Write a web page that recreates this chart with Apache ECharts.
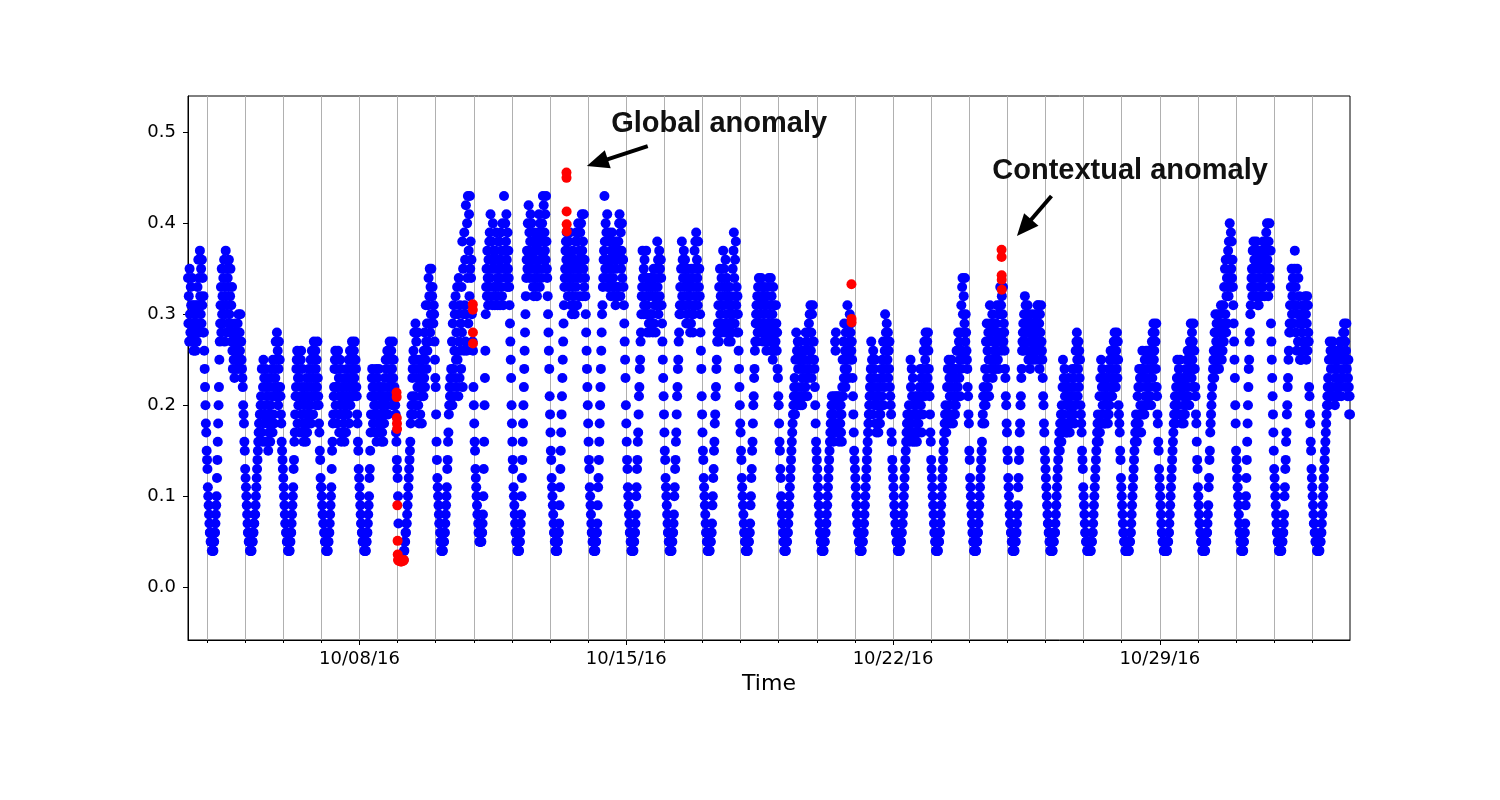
<!DOCTYPE html>
<html lang="en" style="height: 100%">

<head>
    <meta charset="utf-8">
</head>

<body style="height: 100%; margin: 0; background: #fff">
    <div id="container" style="width: 1500px; height: 800px"></div>

    <script type="text/javascript" src="https://cdn.jsdelivr.net/npm/echarts@6.0.0/dist/echarts.min.js"></script>

    <script type="text/javascript">
        // readings every 15 minutes, one array per day, values x100
        // oct03 starts at 12:00, every other day starts at 00:00
        // rows: 00-03h, 03-06h, 06-10h, 10-13h, 13-16h, 16-19h, 19-22h, 22-24h
        const oct03 = [34,29,32,27,35,30,28,33,31,27,34,29, 28,31,26,30,27,29,31,26,28,30,27,31,
            33,29,36,31,34,28,37,32,30,35,29,36, 31,34,28,32, 28,26,24,22,20,18,17,15];
        const oct04 = [14,13,11,10,9,8,7,6,6,5,5,5, 4,5,4,4,4,5,5,6,6,7,8,9, 10,12,14,16,18,20,22,25,27,29,31,33,28,35,30,32,
            29,34,31,36,27,33,30,37,32,28,35,31, 34,29,33,36,30,28,32,35,29,31,27,33,
            26,24,28,25,27,23,26,29,24,27,25,28, 26,29,24,30,27,25,28,26,30,24,27,25, 24,23,22,20,19,18,16,15];
        const oct05 = [13,12,11,10,9,8,7,6,6,5,5,5, 4,4,4,4,4,5,5,5,6,6,7,7, 8,8,9,10,11,12,13,14,15,16,17,18,16,19,17,20,
            21,17,24,19,16,22,25,18,23,20,16,24, 19,22,16,21,18,23,15,20,17,22,19,16,
            20,23,18,24,21,17,25,19,22,18,24,21, 23,27,21,25,28,22,26,20,24,27,21,25, 22,21,19,18,16,15,14,13];
        const oct06 = [12,11,10,9,8,7,7,6,6,5,5,5, 4,4,4,4,4,5,5,6,6,7,8,9, 10,11,13,14,16,17,19,21,22,24,25,26,18,23,20,24,
            20,23,17,21,25,26,19,22,24,18,21,16, 20,17,22,18,21,16,19,23,17,20,22,18,
            21,24,19,23,20,25,18,22,26,21,24,19, 23,27,21,25,22,26,24,20,25,22,27,23, 21,20,18,17,15,14,12,11];
        const oct07 = [11,10,9,8,8,7,7,6,6,5,5,5, 4,4,4,4,4,5,5,6,6,7,8,9, 10,11,13,15,16,18,19,21,22,24,25,26,20,24,22,25,
            18,22,26,19,23,17,21,25,20,24,16,22, 19,21,17,22,18,20,16,23,19,21,17,22,
            20,24,19,23,21,25,18,22,26,20,24,21, 23,27,22,25,24,21,26,23,27,22,25,24, 22,21,19,18,16,15,13,12];
        const oct08 = [11,10,9,8,7,7,6,6,5,5,5,5, 4,4,4,4,4,5,5,6,6,7,8,9, 10,12,13,15,17,19,21,23,24,22,18,21,23,20,22,19,
            17,21,24,16,20,23,18,22,19,24,17,21, 22,18,20,16,21,17,19,22,16,20,18,21,
            23,19,25,21,24,20,26,22,19,25,21,23, 27,23,25,21,26,22,24,20,27,23,25,21, 22,21,20,19,17,16,14,13];
        const oct09 = [12,10,7,3,3,3,3,3,3,3,3,3, 3,3,3,3,4,4,5,5,6,6,7,7, 8,9,10,11,12,13,14,15,16,18,19,20,21,23,24,25,
            26,19,28,21,24,29,20,27,23,25,22,28, 20,24,18,22,25,19,23,21,24,18,22,25,
            24,21,26,23,28,22,25,31,27,24,29,26, 31,27,34,29,32,35,28,33,30,35,29,32, 33,30,29,31,30,27,25,23];
        const oct10 = [22,19,16,14,12,11,10,9,8,7,7,6, 5,5,4,4,4,4,4,5,5,5,6,6, 7,8,9,10,11,13,14,16,17,19,20,22,21,23,20,24,
            22,27,20,29,24,31,21,26,30,23,32,25, 28,22,33,25,30,21,34,27,23,31,26,29,
            24,33,28,38,22,35,30,26,39,31,36,27, 42,30,26,40,34,43,29,37,41,32,43,35, 38,34,36,30,31,27,26,22];
        const oct11 = [20,18,16,15,13,12,11,10,9,8,8,7, 6,6,5,5,5,5,5,5,6,6,7,8, 10,13,16,20,23,26,30,33,35,32,37,34,31,36,33,38,
            39,34,41,36,32,38,35,31,40,37,33,36, 35,31,37,33,39,32,36,34,31,38,33,35,
            38,34,31,36,39,33,37,32,40,35,31,37, 43,37,35,40,34,38,41,36,33,39,35,37, 34,33,31,29,27,25,23,20];
        const oct12 = [18,16,14,13,11,10,9,8,7,6,6,5, 5,5,4,4,4,4,4,5,5,6,7,8, 10,12,14,16,18,20,22,24,26,28,30,32,34,36,37,35,
            40,35,42,37,39,34,38,41,36,40,35,38, 36,33,37,32,39,34,36,38,33,35,37,32,
            38,34,39,35,41,37,33,40,36,38,34,39, 40,36,43,38,42,35,39,37,41,36,43,38, 35,34,32,30,28,26,24,21];
        const oct13 = [19,17,15,14,12,11,10,9,8,7,6,6, 5,5,4,4,4,4,4,5,5,6,6,7, 9,11,13,15,17,19,21,23,25,27,29,31,33,34,35,37,
            38,36,39,34,37,32,36,38,33,35,39,34, 36,31,35,30,33,37,32,34,31,36,30,35,
            38,33,39,35,31,38,34,40,36,32,37,35, 39,34,40,36,41,37,32,38,35,41,33,36, 34,32,30,28,26,24,22,20];
        const oct14 = [18,16,14,13,11,10,9,8,7,6,6,5, 5,5,4,4,4,4,4,5,5,6,6,7, 9,11,12,14,16,18,20,22,24,26,28,30,31,33,34,36,
            37,43,38,35,40,34,39,36,41,33,38,35, 39,33,38,34,36,32,37,35,39,33,36,34,
            38,33,37,32,36,31,35,38,33,36,32,37, 38,33,40,41,36,32,39,35,37,40,34,36, 36,33,31,29,27,25,23,20];
        const oct15 = [18,16,14,13,11,10,9,8,7,6,6,5, 5,4,4,4,4,4,4,5,5,6,6,7, 8,10,11,13,14,16,17,19,21,22,24,25,27,28,30,32,
            33,37,34,30,35,31,36,32,34,30,37,33, 31,28,34,30,33,29,32,28,34,30,33,29,
            34,30,33,28,32,35,29,34,31,33,28,32, 35,31,38,33,36,30,34,37,32,35,31,36, 34,31,29,27,25,23,21,19];
        const oct16 = [17,15,14,12,11,10,9,8,7,6,6,5, 5,4,4,4,4,4,4,5,5,6,6,7, 8,10,11,13,14,16,17,19,21,22,24,25,27,28,30,31,
            33,30,35,31,38,32,36,34,31,37,33,35, 36,31,34,29,33,30,35,32,29,34,31,33,
            32,28,33,29,35,30,34,31,28,33,30,35, 37,31,38,32,39,33,36,34,31,38,35,33, 35,32,30,28,26,24,21,19];
        const oct17 = [17,15,14,12,11,10,9,8,7,6,6,5, 5,4,4,4,4,4,4,5,5,5,6,6, 7,9,10,12,13,15,16,18,19,21,22,24,25,27,28,29,
            31,27,33,28,35,30,32,29,34,28,31,33, 37,31,35,29,33,28,36,32,30,34,29,33,
            32,27,31,28,33,29,30,27,32,28,31,29, 35,30,37,39,34,29,36,32,38,31,33,28, 32,30,28,26,24,22,20,18];
        const oct18 = [17,15,14,12,11,10,9,8,7,6,6,5, 5,4,4,4,4,4,4,5,5,5,6,6, 7,9,10,12,13,15,16,18,20,21,23,24,26,27,29,30,
            31,27,32,28,33,29,34,30,28,32,29,31, 34,29,33,28,32,27,30,33,28,31,29,32,
            31,26,32,27,33,28,30,34,29,27,31,28, 34,29,32,26,30,25,33,28,31,27,29,26, 27,31,29,26,28,24,23,21];
        const oct19 = [20,18,16,15,13,12,10,9,8,7,7,6, 5,5,4,4,4,4,4,5,5,5,6,6, 7,8,9,10,11,12,13,14,15,16,17,18,19,20,21,22,
            23,19,25,21,28,22,26,20,27,24,21,25, 27,21,25,20,24,22,26,20,23,25,21,24,
            25,21,26,22,28,23,27,24,21,26,23,28, 29,24,30,25,31,26,28,23,30,27,31,25, 27,25,24,22,20,18,16,15];
        const oct20 = [14,13,12,11,10,9,8,7,6,6,5,5, 4,4,4,4,4,4,5,5,5,6,6,7, 7,8,9,10,11,12,13,14,15,16,17,18,19,20,21,20,
            17,20,16,19,21,18,27,26,28,21,17,20, 18,21,17,20,16,19,21,18,20,17,19,16,
            22,25,21,27,23,29,24,26,22,28,25,23, 24,31,26,28,23,29,27,30,25,28,29,26, 27,25,23,21,19,17,15,14];
        const oct21 = [13,12,11,10,9,8,7,7,6,6,5,5, 4,4,4,4,4,4,5,5,5,6,6,7, 8,9,10,11,12,13,14,15,16,17,18,19,20,21,22,23,
            24,27,22,25,19,22,26,21,24,20,23,25, 18,21,17,20,22,18,21,17,20,19,22,18,
            19,23,20,24,21,25,23,27,20,24,22,26, 30,26,28,24,29,27,25,28,23,26,24,27, 22,21,20,19,17,16,14,13];
        const oct22 = [12,11,10,9,8,8,7,6,6,5,5,5, 4,4,4,4,4,4,5,5,5,6,6,7, 7,8,9,10,11,12,13,14,15,16,17,18,19,18,17,19,
            20,16,19,17,25,22,18,24,21,16,23,19, 17,20,16,19,21,17,20,18,16,21,19,17,
            18,21,17,22,19,24,20,23,17,21,24,19, 22,26,23,27,21,25,28,22,26,24,27,23, 28,26,24,22,21,19,17,16];
        const oct23 = [14,13,12,11,10,9,8,7,6,6,5,5, 4,4,4,4,4,4,5,5,5,6,6,7, 8,9,10,11,12,13,14,15,16,17,18,19,20,18,17,19,
            22,18,24,19,25,20,23,21,24,18,22,25, 24,19,23,18,21,24,20,22,19,24,20,23,
            26,21,26,22,28,24,27,23,25,21,28,24, 31,26,33,34,30,25,32,28,29,34,27,30, 28,26,25,24,22,21,19,18];
        const oct24 = [15,14,12,11,10,9,8,7,6,6,5,5, 4,4,4,4,4,4,5,5,5,6,6,7, 8,9,10,11,12,13,14,15,16,18,19,21,22,20,18,21,
            24,20,27,21,29,23,26,22,28,25,21,27, 31,25,29,24,28,25,30,23,27,29,24,26,
            29,25,28,24,29,26,31,27,25,30,24,28, 31,27,33,30,31,26,32,28,30,33,27,29, 28,26,24,23,21,20,18,17];
        const oct25 = [15,14,12,11,10,9,8,7,7,6,6,5, 5,4,4,4,4,4,4,5,5,5,6,6, 7,8,9,11,12,14,15,17,18,20,21,23,24,26,27,28,
            29,26,30,27,32,27,31,28,30,26,29,31, 30,25,29,25,28,24,27,30,26,28,25,29,
            28,25,29,26,30,26,27,29,25,28,26,30, 31,27,31,26,29,24,30,28,25,31,27,26, 25,23,21,20,18,17,15,14];
        const oct26 = [13,12,11,10,9,8,7,7,6,6,5,5, 4,4,4,4,4,4,4,5,5,5,6,6, 6,7,8,9,10,11,12,13,14,15,16,17,15,18,16,19,
            16,20,17,22,25,19,23,18,24,21,17,22, 21,17,20,17,22,18,23,19,21,17,20,18,
            21,18,22,19,24,20,23,19,22,18,24,20, 26,21,27,28,25,21,24,27,22,26,23,25, 20,19,18,17,15,14,13,11];
        const oct27 = [10,9,8,7,6,6,5,5,5,4,4,4, 4,4,4,4,4,4,4,5,5,5,6,6, 7,8,9,10,11,12,13,14,15,16,17,18,19,17,16,18,
            21,17,23,18,25,19,22,24,20,23,18,21, 23,18,22,18,23,19,21,20,22,18,23,19,
            24,20,25,21,26,22,23,25,21,24,22,26, 27,23,28,27,25,22,26,24,28,23,27,25, 20,19,18,17,15,14,12,11];
        const oct28 = [10,9,8,7,6,6,5,5,5,4,4,4, 4,4,4,4,4,4,4,5,5,5,6,6, 7,8,9,10,11,12,13,14,15,16,17,18,19,17,16,18,
            21,17,22,18,24,19,23,20,22,17,24,19, 26,20,24,19,23,19,25,21,23,20,26,22,
            24,20,25,21,26,22,23,25,21,24,20,26, 27,23,28,24,29,25,26,28,22,27,24,29, 22,21,19,18,16,15,13,12];
        const oct29 = [11,10,9,8,7,6,6,5,5,5,4,4, 4,4,4,4,4,4,4,5,5,5,6,6, 7,8,9,10,11,12,13,14,15,16,17,18,19,20,21,20,
            18,22,19,23,25,20,23,21,24,19,22,25, 23,19,22,18,22,19,21,23,18,20,22,19,
            23,20,24,21,25,22,26,23,21,24,20,25, 27,24,29,26,23,28,25,27,22,29,24,26, 24,22,21,19,18,16,14,13];
        const oct30 = [11,10,9,8,7,7,6,6,5,5,5,4, 4,4,4,4,4,4,4,5,5,5,6,6, 7,8,9,11,12,14,15,17,18,19,20,21,22,23,24,25,
            26,23,28,24,30,25,27,29,24,28,26,30, 29,24,28,25,30,26,31,27,25,29,26,28,
            31,27,33,29,35,30,36,28,32,34,29,33, 37,32,38,34,40,36,33,39,35,38,34,36, 33,31,29,27,25,23,20,18];
        const oct31 = [15,14,13,12,11,10,9,8,7,6,6,5, 5,4,4,4,4,4,4,5,5,6,6,7, 9,10,12,14,16,18,20,22,24,25,27,28,30,31,33,34,
            35,32,37,33,38,34,36,32,37,35,33,38, 37,32,36,31,35,31,34,37,32,36,33,35,
            36,32,37,33,38,34,35,37,32,36,34,38, 39,35,40,36,37,32,38,34,40,35,33,37, 29,27,25,23,21,19,17,15];
        const nov01 = [13,12,11,10,9,8,7,6,6,5,5,5, 4,4,4,4,4,4,4,5,5,5,6,6, 7,8,10,11,13,14,16,17,19,20,22,23,25,26,28,29,
            31,28,33,29,35,30,32,34,29,33,31,35, 37,31,33,28,31,26,35,30,27,34,29,32,
            30,25,29,25,30,25,28,31,26,29,27,30, 31,26,32,27,30,25,29,32,26,31,28,27, 22,21,19,18,16,15,13,12];
        const nov02 = [11,10,9,8,7,7,6,6,5,5,5,5, 4,4,4,4,4,4,4,5,5,5,6,6, 7,8,9,10,11,12,13,14,15,16,17,18,19,20,21,22,
            23,20,25,21,27,22,26,24,21,25,22,27, 26,21,25,21,24,20,23,26,22,24,21,25,
            24,21,25,22,26,22,27,23,25,21,26,23, 27,23,28,24,29,28,25,27,22,26,29,24, 25,21,23,25,22,19,21,19];

        const dayArrays = [oct03, oct04, oct05, oct06, oct07, oct08, oct09, oct10, oct11, oct12,
            oct13, oct14, oct15, oct16, oct17, oct18, oct19, oct20, oct21, oct22, oct23,
            oct24, oct25, oct26, oct27, oct28, oct29, oct30, oct31, nov01, nov02];

        // flagged points (red)
        const anomalyTimes = [
            '2016-10-08 23:20', '2016-10-08 23:25', '2016-10-08 23:30', '2016-10-08 23:35', '2016-10-08 23:40',
            '2016-10-08 23:50', '2016-10-09 00:00', '2016-10-09 00:05', '2016-10-09 00:15', '2016-10-09 00:50',
            '2016-10-09 01:30', '2016-10-09 02:10', '2016-10-09 02:50', '2016-10-09 03:30', '2016-10-09 04:00',
            '2016-10-10 23:20', '2016-10-10 23:22', '2016-10-10 23:25', '2016-10-10 23:28',
            '2016-10-13 10:20', '2016-10-13 10:22', '2016-10-13 10:26', '2016-10-13 10:28', '2016-10-13 10:30',
            '2016-10-20 21:48', '2016-10-20 21:52', '2016-10-20 21:54',
            '2016-10-24 20:20', '2016-10-24 20:22', '2016-10-24 20:24', '2016-10-24 20:26', '2016-10-24 20:28'
        ];
        const anomalyValues = [
            0.214, 0.209, 0.186, 0.180, 0.174,
            0.090, 0.051, 0.036, 0.030, 0.029,
            0.029, 0.028, 0.029, 0.029, 0.030,
            0.311, 0.305, 0.280, 0.268,
            0.456, 0.450, 0.413, 0.399, 0.391,
            0.333, 0.295, 0.291,
            0.371, 0.363, 0.343, 0.338, 0.327
        ];

        const labelDays = ['2016-10-08', '2016-10-15', '2016-10-22', '2016-10-29'];
        const yTicks = [0, 0.1, 0.2, 0.3, 0.4, 0.5];

        // annotations: text anchor (left, middle), arrow tail, arrow tip
        const noteTexts = ['Global anomaly', 'Contextual anomaly'];
        const noteTextAt = [['2016-10-14 14:30', 0.509], ['2016-10-24 14:30', 0.458]];
        const noteTails = [['2016-10-15 13:30', 0.485], ['2016-10-26 03:45', 0.430]];
        const noteTips = [['2016-10-13 23:10', 0.463], ['2016-10-25 06:00', 0.386]];

        function toTime(s) {
            const parts = s.split(' ');
            const d = parts[0].split('-');
            const hm = (parts[1] || '00:00').split(':');
            return new Date(+d[0], d[1] - 1, +d[2], +hm[0], +hm[1]).getTime();
        }

        function fmtDate(ts) {
            const d = new Date(ts);
            const p = n => String(n).padStart(2, '0');
            return p(d.getMonth() + 1) + '/' + p(d.getDate()) + '/' + p(d.getFullYear() % 100);
        }

        const STEP = 15 * 60 * 1000;
        const normal = [];
        dayArrays.forEach((arr, k) => {
            const start = k === 0 ? new Date(2016, 9, 3, 12, 0).getTime() : new Date(2016, 9, 3 + k).getTime();
            arr.forEach((v, i) => normal.push([start + i * STEP, v / 100]));
        });
        const anomalies = anomalyTimes.map((t, i) => [toTime(t), anomalyValues[i]]);

        const dayTicks = [];
        for (let d = 4; d <= 33; d++) dayTicks.push(new Date(2016, 9, d).getTime());
        const labelTicks = labelDays.map(toTime);

        const X_MIN = toTime('2016-10-03 12:00');
        const X_MAX = toTime('2016-11-02 23:45');

        const labelFont = { fontFamily: 'DejaVu Sans', fontSize: 18, color: '#000' };

        var dom = document.getElementById('container');
        var myChart = echarts.init(dom, null, { renderer: 'canvas' });

        var option = {
            animation: false,
            backgroundColor: '#fff',
            grid: {
                left: 188, right: 150, top: 96, bottom: 160,
                show: true, borderColor: '#000', borderWidth: 1
            },
            // timestamps on a plain value axis, ticks placed at each midnight
            xAxis: [{
                type: 'value',
                min: X_MIN,
                max: X_MAX,
                scale: true,
                name: 'Time',
                nameLocation: 'middle',
                nameGap: 31,
                nameTextStyle: { fontFamily: 'DejaVu Sans', fontSize: 22, color: '#000' },
                axisLine: { show: true, onZero: false, lineStyle: { color: '#000', width: 1 } },
                axisTick: { show: true, customValues: dayTicks, length: 3, lineStyle: { color: '#000' } },
                axisLabel: Object.assign({ customValues: labelTicks, formatter: fmtDate, margin: 10 }, labelFont),
                splitLine: { show: true, lineStyle: { color: '#b0b0b0', width: 1 } }
            }, {
                type: 'value',
                min: X_MIN,
                max: X_MAX,
                scale: true,
                position: 'bottom',
                axisLine: { show: false, onZero: false },
                axisTick: { show: true, customValues: labelTicks, length: 5, lineStyle: { color: '#000' } },
                axisLabel: { show: false },
                splitLine: { show: false }
            }],
            yAxis: {
                type: 'value',
                min: -0.058,
                max: 0.54,
                axisLine: { show: true, lineStyle: { color: '#000', width: 1 } },
                axisTick: { show: true, customValues: yTicks, length: 5, lineStyle: { color: '#000' } },
                axisLabel: Object.assign({ customValues: yTicks, formatter: v => v.toFixed(1), margin: 12 }, labelFont),
                splitLine: { show: false }
            },
            series: [{
                type: 'scatter',
                data: normal,
                symbolSize: 10,
                itemStyle: { color: '#0000ff', opacity: 1 },
                silent: true
            }, {
                type: 'scatter',
                data: anomalies,
                symbolSize: 10,
                itemStyle: { color: '#ff0000', opacity: 1 },
                z: 3,
                silent: true
            }]
        };

        myChart.setOption(option);

        // arrows and texts, placed through the axes
        const px = p => myChart.convertToPixel({ xAxisIndex: 0, yAxisIndex: 0 }, [toTime(p[0]), p[1]]);
        const graphics = [];
        noteTexts.forEach((text, i) => {
            const at = px(noteTextAt[i]);
            const tail = px(noteTails[i]);
            const tip = px(noteTips[i]);
            const dx = tip[0] - tail[0], dy = tip[1] - tail[1];
            const len = Math.sqrt(dx * dx + dy * dy);
            const ux = dx / len, uy = dy / len;
            const headL = 22, headW = 9.5;
            const bx = tip[0] - ux * headL, by = tip[1] - uy * headL;
            graphics.push({
                type: 'line', z: 100,
                shape: { x1: tail[0], y1: tail[1], x2: bx + ux * 2, y2: by + uy * 2 },
                style: { stroke: '#000', lineWidth: 4 }
            });
            graphics.push({
                type: 'polygon', z: 100,
                shape: { points: [tip, [bx - uy * headW, by + ux * headW], [bx + uy * headW, by - ux * headW]] },
                style: { fill: '#000' }
            });
            graphics.push({
                type: 'text', z: 100,
                x: at[0], y: at[1],
                style: {
                    text: text, fill: '#111',
                    fontFamily: 'Liberation Sans', fontSize: 29, fontWeight: 'bold',
                    align: 'left', verticalAlign: 'middle'
                }
            });
        });
        myChart.setOption({ graphic: graphics });

        window.addEventListener('resize', myChart.resize);
    </script>
</body>

</html>
